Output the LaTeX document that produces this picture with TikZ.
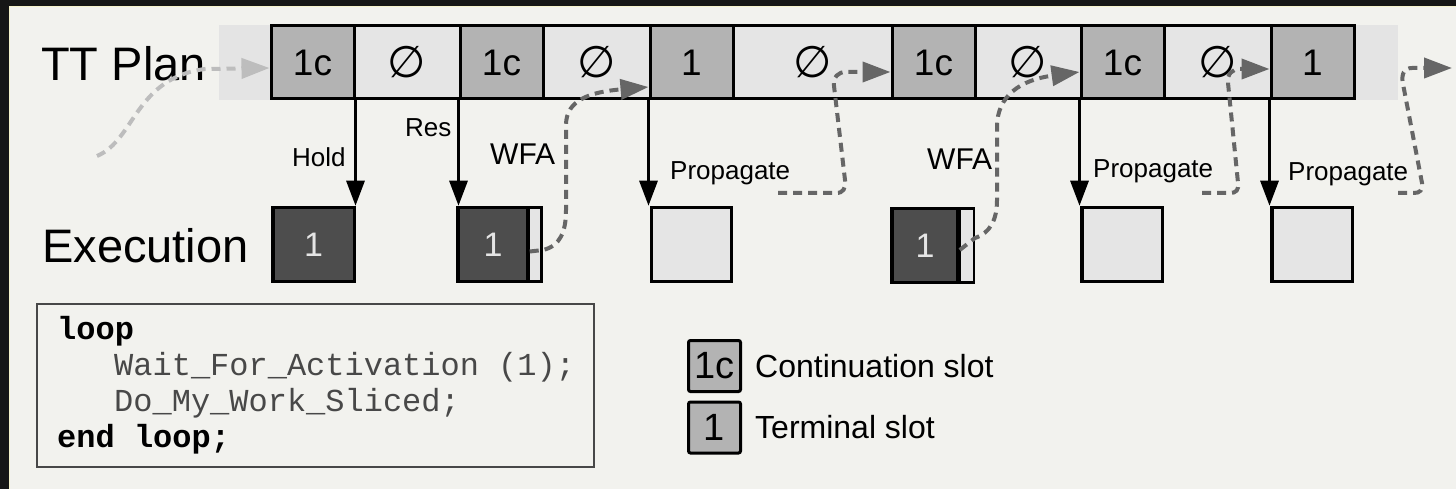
\documentclass[tikz,border=0pt]{standalone}
\usepackage{fontspec}
\setmainfont{Liberation Sans}
\newfontfamily\codefont{Liberation Mono}
\newfontfamily\symfont{DejaVu Sans}
\usetikzlibrary{arrows.meta}

\definecolor{frame}{HTML}{161616}
\definecolor{rim}{HTML}{F6F3CC}
\definecolor{paper}{HTML}{F2F2EE}
\definecolor{band}{HTML}{E4E4E4}
\definecolor{slotc}{HTML}{B3B3B3}
\definecolor{slotn}{HTML}{E5E5E5}
\definecolor{busy}{HTML}{4D4D4D}
\definecolor{flow}{HTML}{666666}
\definecolor{flowpale}{HTML}{BDBDBD}
\definecolor{codegrey}{HTML}{484848}

\tikzset{
  slot/.style={draw=black, line width=3pt, minimum height=73pt, inner sep=0pt,
    font=\fontsize{37}{37}\selectfont},
  cslot/.style={slot, fill=slotc},
  nslot/.style={slot, fill=slotn, font=\symfont\fontsize{44}{44}\selectfont},
  runbox/.style={draw=black, line width=3.5pt, minimum height=74pt, inner sep=0pt,
    fill=busy, text=slotn, font=\fontsize{34}{34}\selectfont},
  idlebox/.style={runbox, fill=slotn},
  tailbox/.style={draw=black, line width=2.5pt, minimum height=74pt, inner sep=0pt, fill=slotn},
  act/.style={draw=black, line width=3pt, -{Triangle[length=25pt,width=18pt]}},
  lab/.style={inner sep=0pt, anchor=base west, font=\fontsize{26}{26}\selectfont},
  biglab/.style={inner sep=0pt, anchor=base west, font=\fontsize{47}{47}\selectfont},
  flowline/.style={draw=flow, line width=4pt, dash pattern=on 9pt off 6pt,
    -{Triangle[length=28pt,width=20pt]}},
  pale/.style={draw=flowpale},
  keybox/.style={draw=black, line width=3pt, fill=slotc, rounded corners=2pt,
    minimum width=52pt, minimum height=51pt, inner sep=0pt,
    font=\fontsize{38}{38}\selectfont},
  keytext/.style={inner sep=0pt, anchor=base west, font=\fontsize{32}{32}\selectfont},
  code/.style={inner sep=0pt, anchor=base west, text=codegrey,
    font=\codefont\fontsize{32}{32}\selectfont},
  codekw/.style={code, text=black, font=\codefont\bfseries\fontsize{32}{32}\selectfont},
}

\begin{document}
\begin{tikzpicture}[x=1pt, y=-1pt]
  % page, dark frame and thin rim
  \fill[frame] (0,0) rectangle (1456,489);
  \fill[rim] (9,6) rectangle (1456,489);
  \fill[paper] (10,7) rectangle (1456,489);
  \useasboundingbox (0,0) rectangle (1456,489);

  % shaded band behind the plan
  \fill[band] (219,25) rectangle (1398,100);

  % time-triggered plan slots
  \node[cslot, minimum width=83pt]  (s1)  at (312.5,62.5) {1c};
  \node[nslot, minimum width=106pt] (s2)  at (407,62.5)   {∅};
  \node[cslot, minimum width=83pt]  (s3)  at (501.5,62.5) {1c};
  \node[nslot, minimum width=107pt] (s4)  at (596.5,62.5) {∅};
  \node[cslot, minimum width=83pt]  (s5)  at (691.5,62.5) {1};
  \node[nslot, minimum width=159pt] (s6)  at (812.5,62.5) {∅};
  \node[cslot, minimum width=83pt]  (s7)  at (933.5,62.5) {1c};
  \node[nslot, minimum width=106pt] (s8)  at (1028,62.5)  {∅};
  \node[cslot, minimum width=83pt]  (s9)  at (1122.5,62.5){1c};
  \node[nslot, minimum width=107pt] (s10) at (1217.5,62.5){∅};
  \node[cslot, minimum width=83pt]  (s11) at (1312.5,62.5){1};

  \node[biglab] (plan) at (41,81) {TT Plan};
  \node[biglab] (exec) at (42,262) {Execution};

  % execution boxes
  \node[runbox, minimum width=81.5pt] (e1) at (313.5,244.5) {1};
  \node[tailbox, minimum width=13.5pt] (e2s) at (534.75,244.5) {};
  \node[runbox, minimum width=70pt] (e2) at (493,244.5) {1};
  \node[idlebox, minimum width=80pt] (e3) at (691.5,244.5) {};
  \node[tailbox, minimum width=14pt] (e4s) at (967,245.5) {};
  \node[runbox, minimum width=66pt] (e4) at (925,245.5) {1};
  \node[idlebox, minimum width=80.5pt] (e5) at (1122,244.5) {};
  \node[idlebox, minimum width=80.5pt] (e6) at (1312,244.5) {};

  % activations
  \draw[act] (s1.south east) -- (s1.south east |- e1.north);
  \draw[act] (s3.south west) -- (s3.south west |- e2.north);
  \draw[act] (s5.south west) -- (s5.south west |- e3.north);
  \draw[act] (s9.south west) -- (s9.south west |- e5.north);
  \draw[act] (s11.south west) -- (s11.south west |- e6.north);

  % activation labels
  \node[lab] (l1) at (292,167) {Hold};
  \node[lab] (l2) at (405,137) {Res};
  \node[lab, font=\fontsize{30}{30}\selectfont] (l3) at (490,165) {WFA};
  \node[lab] (l4) at (670,180) {Propagate};
  \node[lab, font=\fontsize{30}{30}\selectfont] (l5) at (927,170) {WFA};
  \node[lab] (l6) at (1093,178) {Propagate};
  \node[lab] (l7) at (1288,181) {Propagate};

  % flow of control between slots
  \coordinate (q0) at (97,156);
  \coordinate (q1) at (778,193);
  \coordinate (q2) at (1202,193);
  \coordinate (q3) at (1398,193);
  \coordinate (q4) at (1452,68);

  \draw[flowline, pale] (q0) .. controls (135,140) and (135,78) .. (205,69)
    -- ([yshift=-5.5pt]s1.west);
  \draw[flowline] ([yshift=-7pt]e2.east) -- (543,250)
    .. controls (560,246) and (566,232) .. (566,210) -- (566,125)
    .. controls (566,100) and (590,92) .. ([yshift=-24.5pt]s5.west);
  \draw[flowline] (q1) -- (836,193) .. controls (843,193) and (846,189) .. (845,180)
    -- (834,86) .. controls (833,77) and (838,72) .. (846,72)
    -- ([yshift=-9.5pt]s7.west);
  \draw[flowline] ([yshift=-4.5pt]e4.east) -- (975,238)
    .. controls (990,233) and (997,220) .. (997,200) -- (997,127)
    .. controls (997,96) and (1020,80) .. ([yshift=-9.5pt]s9.west);
  \draw[flowline] (q2) -- (1230,193) .. controls (1236,193) and (1239,190) .. (1238,183)
    -- (1228,83) .. controls (1227,74) and (1232,69) .. (1240,69)
    -- ([yshift=-6.5pt]s11.west);
  \draw[flowline] (q3) -- (1414,193) .. controls (1420,193) and (1423,190) .. (1422,183)
    -- (1403,84) .. controls (1401,74) and (1404,68) .. (1412,68) -- (q4);

  % task body
  \node[draw=codegrey, line width=1.3pt, minimum width=557pt, minimum height=163pt,
    inner sep=0pt] (body) at (315.5,385.5) {};
  \node[codekw] (k1) at (57,339) {loop};
  \node[code] (k2) at (114,375) {Wait\_For\_Activation (1);};
  \node[code] (k3) at (114,411) {Do\_My\_Work\_Sliced;};
  \node[codekw] (k4) at (57,447) {end loop;};

  % legend
  \node[keybox] (kc) at (714.5,366) {1c};
  \node[keybox] (kt) at (714.5,427.5) {1};
  \node[keytext] (kct) at (755,377) {Continuation slot};
  \node[keytext] (ktt) at (755,438) {Terminal slot};
\end{tikzpicture}
\end{document}
